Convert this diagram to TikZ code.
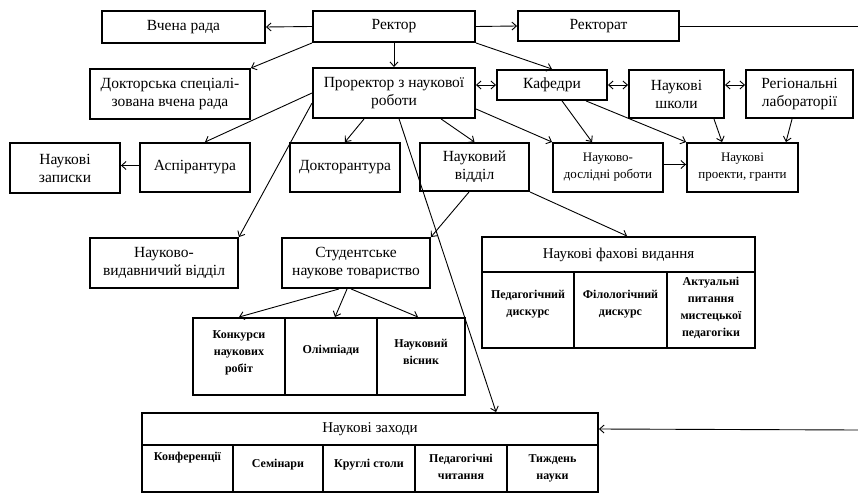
\documentclass[tikz,border=0pt]{standalone}
\usepackage{fontspec}
\setmainfont{Liberation Serif}
\usetikzlibrary{arrows.meta,calc}
\begin{document}
\begin{tikzpicture}[x=1pt,y=-1pt,
  box/.style={draw, line width=1.9pt, align=center, inner sep=1pt, font=\fontsize{15.5}{18}\selectfont},
  sbox/.style={box, font=\fontsize{13}{17}\selectfont},
  cell/.style={draw, line width=1.9pt, inner sep=0pt},
  ctext/.style={align=center, inner sep=0pt, font=\bfseries\fontsize{12}{17}\selectfont},
  htext/.style={align=center, inner sep=0pt, font=\fontsize{15}{18}\selectfont},
  tip/.tip={Straight Barb[length=4.5pt,width=8pt]},
  arr/.style={line width=0.9pt, -tip},
  darr/.style={line width=0.9pt, tip-tip},
  ln/.style={line width=0.9pt},
]
\useasboundingbox (0,0) rectangle (858,494);
\fill[white] (0,0) rectangle (858,494);

% top row
\node[box, minimum width=163pt, minimum height=32pt] (vr) at (183.5,27) {Вчена рада};
\node[box, minimum width=162pt, minimum height=31pt] (rek) at (394,26.5) {Ректор};
\node[box, minimum width=161pt, minimum height=30pt] (rkt) at (598.5,26) {Ректорат};

% second row
\node[box, minimum width=160pt, minimum height=50pt] (dsvr) at (170,94) {Докторська спеціалі-\\зована вчена рада};
\node[box, minimum width=162pt, minimum height=50pt] (pror) at (394,93) {Проректор з наукової\\роботи};
\node[box, minimum width=110pt, minimum height=30pt] (kaf) at (552,85) {Кафедри};
\node[box, minimum width=95pt, minimum height=48pt] (nsh) at (676.5,94) {Наукові\\школи};
\node[box, minimum width=107pt, minimum height=48pt] (reg) at (799.5,94) {Регіональні\\лабораторії};

% third row
\node[box, minimum width=110pt, minimum height=50pt] (nz) at (65,168) {Наукові\\записки};
\node[box, minimum width=110pt, minimum height=49pt] (asp) at (195,167.5) {Аспірантура};
\node[box, minimum width=110pt, minimum height=49pt] (dok) at (345,167.5) {Докторантура};
\node[box, minimum width=109pt, minimum height=48pt] (nv) at (474.5,167) {Науковий\\відділ};
\node[sbox, minimum width=110pt, minimum height=49pt] (ndr) at (608,167.5) {Науково-\\дослідні роботи};
\node[sbox, minimum width=111pt, minimum height=49pt] (npg) at (742.5,167.5) {Наукові\\проекти, гранти};

% fourth row
\node[box, minimum width=148pt, minimum height=50pt] (nvv) at (164,263) {Науково-\\видавничий відділ};
\node[box, minimum width=148pt, minimum height=50pt] (snt) at (356,263) {Студентське\\наукове товариство};

% student table
\node[cell, minimum width=92pt, minimum height=77pt] (kon) at (239,356.5) {};
\node[cell, minimum width=92pt, minimum height=77pt] (ol) at (331,356.5) {};
\node[cell, minimum width=88pt, minimum height=77pt] (vis) at (421,356.5) {};
\node[ctext] (tkon) at (239,353) {Конкурси\\наукових\\робіт};
\node[ctext] (tol) at (331,350) {Олімпіади};
\node[ctext] (tvis) at (421,352) {Науковий\\вісник};

% scientific journals table
\node[cell, minimum width=273pt, minimum height=35pt] (nfvh) at (618.5,254.5) {};
\node[htext] (tnfvh) at (618.5,254.5) {Наукові фахові видання};
\node[cell, minimum width=92pt, minimum height=76pt] (ped) at (528,310) {};
\node[cell, minimum width=93pt, minimum height=76pt] (fil) at (620.5,310) {};
\node[cell, minimum width=88pt, minimum height=76pt] (akt) at (711,310) {};
\node[ctext] (tped) at (528,304) {Педагогічний\\дискурс};
\node[ctext] (tfil) at (620.5,304) {Філологічний\\дискурс};
\node[ctext] (takt) at (711,308) {Актуальні\\питання\\мистецької\\педагогіки};

% scientific events table
\node[cell, minimum width=456pt, minimum height=32pt] (nzh) at (370,429) {};
\node[htext] (tnzh) at (370,429) {Наукові заходи};
\node[cell, minimum width=91pt, minimum height=47pt] (c1) at (187.5,468.5) {};
\node[cell, minimum width=90pt, minimum height=47pt] (c2) at (278,468.5) {};
\node[cell, minimum width=92pt, minimum height=47pt] (c3) at (369,468.5) {};
\node[cell, minimum width=92pt, minimum height=47pt] (c4) at (461,468.5) {};
\node[cell, minimum width=91pt, minimum height=47pt] (c5) at (552.5,468.5) {};
\node[ctext] (t1) at (187.5,458) {Конференції};
\node[ctext] (t2) at (278,465) {Семінари};
\node[ctext] (t3) at (369,465) {Круглі столи};
\node[ctext] (t4) at (461,466.5) {Педагогічні\\читання};
\node[ctext] (t5) at (552.5,468) {Тиждень\\науки};

% edge coordinates
\coordinate (eR) at (858,26);
\coordinate (eN) at (858,430);

% connectors
\draw[arr] (rek.west) -- (vr.east);
\draw[arr] (rek.east) -- (rkt.west);
\draw[arr] (rek.south) -- (pror.north);
\draw[arr] (rek.south west) -- (dsvr.north east);
\draw[arr] (rek.south east) -- (kaf.north);
\draw[ln] (rkt.east) -- (eR);
\draw[arr] (eN) -- (nzh.east);

\draw[darr] (kaf.west -| pror.east) -- (kaf.west);
\draw[darr] (kaf.east) -- (kaf.east -| nsh.west);
\draw[darr] (nsh.east |- kaf.east) -- (reg.west |- kaf.east);

\draw[arr] (pror.west) -- ($(asp.north)+(10,0)$);
\draw[arr] ($(pror.west)+(0,10)$) -- (nvv.north east);
\draw[arr] ($(pror.south west)+(52,0)$) -- (dok.north);
\draw[arr] ($(pror.south west)+(87,0)$) -- ($(nzh.north west)+(355,0)$);
\draw[arr] ($(pror.south west)+(129,0)$) -- (nv.north);
\draw[arr] ($(pror.south east)+(0,-10)$) -- (ndr.north west);

\draw[arr] ($(kaf.south west)+(66,0)$) -- ($(ndr.north west)+(40,0)$);
\draw[arr] ($(kaf.south west)+(90,0)$) -- (npg.north west);
\draw[arr] ($(nsh.south east)+(-11,0)$) -- ($(npg.north west)+(36,0)$);
\draw[arr] ($(reg.south west)+(47,0)$) -- ($(npg.north east)+(-13,0)$);
\draw[arr] ($(ndr.east)+(0,-3)$) -- ($(npg.west)+(0,-3)$);
\draw[arr] ($(asp.west)+(0,-2)$) -- ($(nz.east)+(0,-2.5)$);

\draw[arr] ($(nv.south west)+(50,0)$) -- (snt.north east);
\draw[arr] (nv.south east) -- ($(nfvh.north west)+(146,0)$);

\draw[arr] ($(snt.south west)+(58,0)$) -- (kon.north);
\draw[arr] ($(snt.south west)+(66,0)$) -- ($(ol.north)+(4,0)$);
\draw[arr] ($(snt.south west)+(70,0)$) -- ($(vis.north)+(-3,0)$);
\end{tikzpicture}
\end{document}
